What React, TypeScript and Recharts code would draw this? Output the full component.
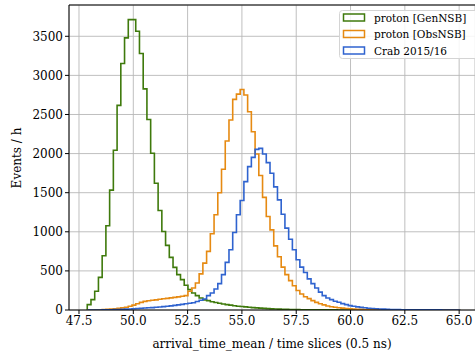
import React from "react"
import {
  LineChart,
  Line,
  XAxis,
  YAxis,
  CartesianGrid,
  Legend,
  ReferenceLine,
} from "recharts"

// histogram binning (100 equal bins)
const BIN_START = 47.88
const BIN_WIDTH = 0.1717

const GREEN_COUNTS = [
  69, 133, 239, 417, 694, 1077, 1533, 2043, 2617, 3152,
  3479, 3713, 3713, 3565, 3280, 2828, 2435, 2004, 1621, 1272,
  1004, 826, 673, 545, 452, 388, 316, 260, 218, 184,
  154, 129, 120, 106, 96, 86, 77, 69, 62, 55,
  48, 44, 40, 35, 31, 27, 24, 21, 18, 15,
  13, 11, 10, 8, 7, 6, 5, 4, 4, 3,
  3, 2, 2, 1, 1, 1, 1, 0, 0, 0,
  0, 0, 0, 0, 0, 0, 0, 0, 0, 0,
  0, 0, 0, 0, 0, 0, 0, 0, 0, 0,
  0, 0, 0, 0, 0, 0, 0, 0, 0, 0,
]

const ORANGE_COUNTS = [
  0, 0, 2, 4, 6, 9, 12, 16, 21, 27,
  35, 47, 62, 80, 97, 110, 118, 124, 130, 137,
  143, 149, 155, 161, 168, 176, 184, 239, 282, 346,
  462, 600, 750, 975, 1217, 1500, 1799, 2161, 2429, 2693,
  2760, 2820, 2750, 2535, 2280, 1995, 1720, 1440, 1195, 1025,
  820, 680, 548, 452, 375, 310, 250, 205, 170, 145,
  120, 98, 80, 65, 52, 42, 35, 29, 24, 20,
  16, 13, 10, 8, 6, 5, 4, 3, 2, 2,
  1, 1, 1, 0, 0, 0, 0, 0, 0, 0,
  0, 0, 0, 0, 0, 0, 0, 0, 0, 0,
]

const BLUE_COUNTS = [
  0, 0, 0, 0, 1, 2, 3, 5, 7, 9,
  11, 13, 16, 19, 22, 25, 28, 31, 35, 39,
  43, 48, 53, 59, 65, 72, 79, 86, 92, 108,
  124, 141, 184, 218, 269, 337, 452, 609, 770, 991,
  1217, 1400, 1642, 1833, 1952, 2054, 2067, 1995, 1885, 1749,
  1574, 1408, 1225, 1047, 905, 770, 643, 548, 480, 398,
  337, 281, 228, 184, 154, 133, 111, 99, 82, 69,
  56, 48, 40, 33, 28, 23, 19, 16, 13, 11,
  9, 7, 6, 5, 4, 3, 3, 2, 2, 1,
  1, 1, 1, 1, 1, 0, 0, 0, 0, 0,
]

const SERIES = [
  { key: "green", name: "proton [GenNSB]", color: "#3f7a0c", counts: GREEN_COUNTS },
  { key: "orange", name: "proton [ObsNSB]", color: "#e68a12", counts: ORANGE_COUNTS },
  { key: "blue", name: "Crab 2015/16", color: "#2f63cf", counts: BLUE_COUNTS },
]

const X_TICKS = [47.5, 50.0, 52.5, 55.0, 57.5, 60.0, 62.5, 65.0]
const Y_TICKS = [0, 500, 1000, 1500, 2000, 2500, 3000, 3500]
const X_DOMAIN = [47.04, 65.73]
const Y_MAX = 3900

const FONT = "'DejaVu Serif', serif"

// step outline: rise at first edge, one point per bin, drop at last edge
function buildRows() {
  const rows: Record<string, number>[] = []
  const first: Record<string, number> = { x: BIN_START }
  SERIES.forEach((s) => (first[s.key] = 0))
  rows.push(first)
  for (let i = 0; i < GREEN_COUNTS.length; i++) {
    const row: Record<string, number> = { x: BIN_START + i * BIN_WIDTH }
    SERIES.forEach((s) => (row[s.key] = s.counts[i]))
    rows.push(row)
  }
  const last: Record<string, number> = { x: BIN_START + GREEN_COUNTS.length * BIN_WIDTH }
  SERIES.forEach((s) => (last[s.key] = 0))
  rows.push(last)
  return rows
}

const rows = buildRows()

function ChartLegend() {
  return (
    <svg width={145} height={50} style={{ display: "block" }}>
      <rect
        x={0.5}
        y={0.5}
        width={150}
        height={48}
        rx={3}
        fill="#fff"
        fillOpacity={0.85}
        stroke="#d4d4d4"
      />
      {SERIES.map((s, i) => (
        <g key={s.key}>
          <rect
            x={4.5}
            y={4 + i * 16.5}
            width={21}
            height={7}
            fill="none"
            stroke={s.color}
            strokeWidth={1.5}
          />
          <text
            x={35}
            y={7.5 + i * 16.5}
            dominantBaseline="central"
            fontFamily={FONT}
            fontSize={10.5}
            fill="#000"
          >
            {s.name}
          </text>
        </g>
      ))}
    </svg>
  )
}

export default function App() {
  return (
    <div
      style={{
        position: "absolute",
        left: 0,
        top: 0,
        width: 475,
        height: 354,
        overflow: "hidden",
        background: "#fff",
      }}
    >
      <LineChart
        width={475}
        height={354}
        data={rows}
        margin={{ top: 5, right: 0, left: 0, bottom: 0 }}
      >
        <CartesianGrid stroke="#b8b8b8" strokeWidth={0.9} />
        <XAxis
          dataKey="x"
          type="number"
          domain={X_DOMAIN}
          ticks={X_TICKS}
          allowDataOverflow
          height={44}
          tickSize={4}
          tickMargin={2}
          stroke="#000"
          tickFormatter={(v: number) => v.toFixed(1)}
          tick={{ fill: "#000", fontSize: 12, fontFamily: FONT }}
          label={{
            value: "arrival_time_mean / time slices (0.5 ns)",
            position: "insideBottom",
            offset: 6,
            fill: "#000",
            fontSize: 12,
            fontFamily: FONT,
          }}
        />
        <YAxis
          type="number"
          domain={[0, Y_MAX]}
          ticks={Y_TICKS}
          allowDataOverflow
          width={69}
          tickSize={4}
          tickMargin={2}
          stroke="#000"
          tick={{ fill: "#000", fontSize: 12, fontFamily: FONT }}
          label={{
            content: () => (
              <text
                x={17}
                y={158}
                transform="rotate(-90 17 158)"
                textAnchor="middle"
                dominantBaseline="central"
                fill="#000"
                fontSize={12}
                fontFamily={FONT}
              >
                Events / h
              </text>
            ),
          }}
        />
        <ReferenceLine y={Y_MAX} stroke="#000" strokeWidth={1} ifOverflow="visible" />
        {SERIES.map((s) => (
          <Line
            key={s.key}
            dataKey={s.key}
            name={s.name}
            type="stepAfter"
            stroke={s.color}
            strokeWidth={1.6}
            dot={false}
            activeDot={false}
            isAnimationActive={false}
          />
        ))}
        <Legend
          layout="vertical"
          align="center"
          verticalAlign="middle"
          content={() => <ChartLegend />}
          wrapperStyle={{ position: "absolute", left: 339, top: 10, width: 145 }}
        />
      </LineChart>
    </div>
  )
}
